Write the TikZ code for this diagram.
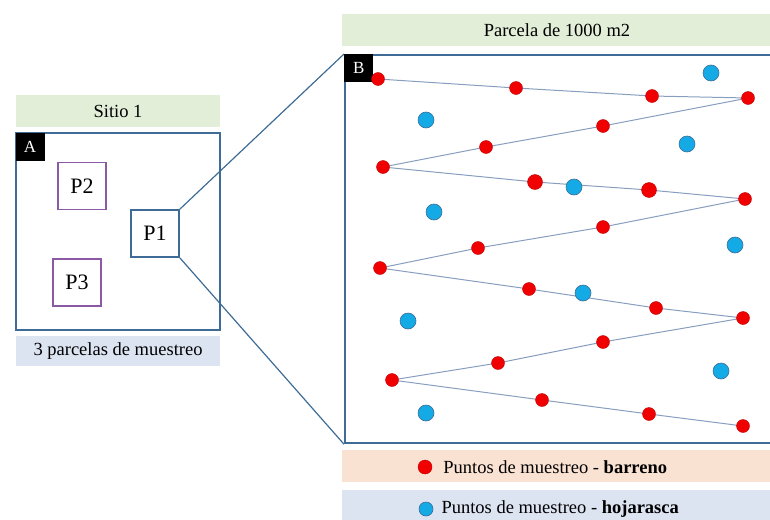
\documentclass[tikz,border=0pt]{standalone}
\usepackage{fontspec}
\setmainfont{Liberation Serif}
\definecolor{HeadGreen}{RGB}{226,238,216}
\definecolor{FootBlue}{RGB}{220,227,241}
\definecolor{SoftOrange}{RGB}{250,226,211}
\definecolor{FrameBlue}{RGB}{62,108,150}
\definecolor{PlotPurple}{RGB}{140,90,165}
\definecolor{DotRed}{RGB}{240,0,0}
\definecolor{DotBlue}{RGB}{20,170,230}
\definecolor{PathGrey}{RGB}{135,158,190}
\usetikzlibrary{positioning,backgrounds}

\begin{document}
\begin{tikzpicture}[
      x=1pt, y=-1pt,
      every node/.style={font=\fontsize{18.5}{21}\selectfont, inner sep=0pt},
      band/.style={minimum height=32pt},
      frame/.style={draw=FrameBlue, line width=1.4pt},
      tag/.style={fill=black, text=white, minimum width=29pt, minimum height=28pt, anchor=north west, font=\fontsize{17}{19}\selectfont},
      subplot/.style={draw=PlotPurple, line width=1.3pt, line join=miter, minimum width=48pt, minimum height=47pt, font=\fontsize{22}{24}\selectfont},
      barreno/.style={circle, fill=DotRed, draw=DotRed!80!black, line width=0.4pt, minimum size=13pt},
      hoja/.style={circle, fill=DotBlue, draw=FrameBlue, line width=0.6pt, minimum size=16pt},
      zoomline/.style={draw=FrameBlue, line width=1.2pt},
      zigzag/.style={draw=PathGrey, line width=1pt}
  ]
    \useasboundingbox (0,0) rectangle (770,519);
    % sitio 1
    \node[band, fill=HeadGreen, minimum width=204pt] (sitehead) at (118,111) {Sitio 1};
    \node[frame, minimum width=204pt, minimum height=197pt] (plotA) at (118,231.5) {};
    \node[tag] (tagA) at (plotA.north west) {A};
    \node[subplot] (p2) at (82,186) {P2};
    \node[subplot, draw=FrameBlue, line width=1.8pt] (p1) at (155,233.5) {P1};
    \node[subplot] (p3) at (77,282.5) {P3};
    \node[band, fill=FootBlue, minimum width=204pt, minimum height=30pt] (sitefoot) at (118,351) {3 parcelas de muestreo};
    % parcela de 1000 m2
    \node[band, fill=HeadGreen, minimum width=430pt] (plothead) at (557,30) {Parcela de 1000 m2};
    \node[frame, line width=2.2pt, minimum width=430pt, minimum height=388pt, anchor=north west] (plotB) at (344,54) {};
    \node[tag] (tagB) at (plotB.north west) {B};
    \draw[zoomline] (p1.north east) -- (plotB.north west);
    \draw[zoomline] (p1.south east) -- (plotB.south west);
    % puntos barreno
    \node[barreno] (r1) at (378,79) {};
    \node[barreno] (r2) at (516,88) {};
    \node[barreno] (r3) at (652,96) {};
    \node[barreno] (r4) at (748,98) {};
    \node[barreno] (r5) at (603,126) {};
    \node[barreno] (r6) at (486,147) {};
    \node[barreno] (r7) at (383,167) {};
    \node[barreno, minimum size=15pt] (r8) at (535,182) {};
    \node[barreno, minimum size=15pt] (r9) at (649,190) {};
    \node[barreno] (r10) at (745,199) {};
    \node[barreno] (r11) at (603,227) {};
    \node[barreno] (r12) at (478,248) {};
    \node[barreno] (r13) at (380,268) {};
    \node[barreno] (r14) at (529,289) {};
    \node[barreno] (r15) at (656,308) {};
    \node[barreno] (r16) at (743,318) {};
    \node[barreno] (r17) at (603,342) {};
    \node[barreno] (r18) at (498,363) {};
    \node[barreno] (r19) at (392,380) {};
    \node[barreno] (r20) at (542,400) {};
    \node[barreno] (r21) at (649,414) {};
    \node[barreno] (r22) at (743,426) {};
    % puntos hojarasca
    \node[hoja] (h1) at (711,73) {};
    \node[hoja] (h2) at (426,120) {};
    \node[hoja] (h3) at (687,144) {};
    \node[hoja] (h4) at (574,187) {};
    \node[hoja] (h5) at (434,212) {};
    \node[hoja] (h6) at (735,245) {};
    \node[hoja] (h7) at (583,293) {};
    \node[hoja] (h8) at (408,321) {};
    \node[hoja] (h9) at (721,371) {};
    \node[hoja] (h10) at (426,413) {};
    \begin{scope}[on background layer]
      \draw[zigzag] (r1.center) -- (r2.center) -- (r3.center) -- (r4.center) -- (r5.center) -- (r6.center) -- (r7.center) -- (r8.center) -- (r9.center) -- (r10.center) -- (r11.center) -- (r12.center) -- (r13.center) -- (r14.center) -- (r15.center) -- (r16.center) -- (r17.center) -- (r18.center) -- (r19.center) -- (r20.center) -- (r21.center) -- (r22.center);
    \end{scope}
    % leyenda
    \node[band, fill=SoftOrange, minimum width=430pt] (legred) at (557,466) {};
    \node[band, fill=FootBlue, minimum width=430pt] (legblue) at (557,506) {};
    \node[barreno, minimum size=14pt] (keyred) at (425,467) {};
    \node[anchor=west, right=11pt of keyred] {Puntos de muestreo - \textbf{barreno}};
    \node[hoja, minimum size=14pt] (keyblue) at (426,509) {};
    \node[anchor=west, right=8pt of keyblue] {Puntos de muestreo - \textbf{hojarasca}};
  \end{tikzpicture}
\end{document}
